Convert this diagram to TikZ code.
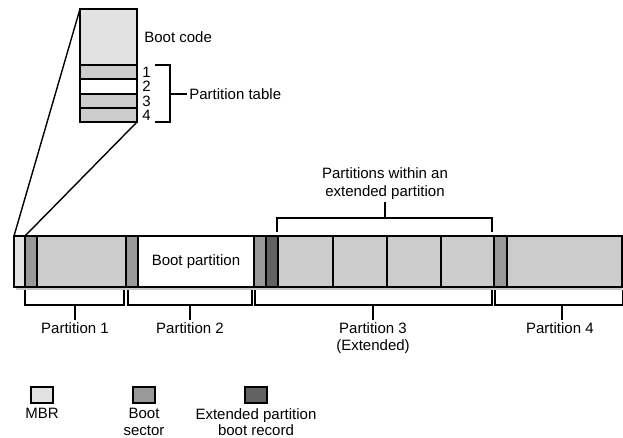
\documentclass[tikz,border=0pt]{standalone}
\usepackage{fontspec}
\setmainfont{Liberation Sans}
\usetikzlibrary{positioning}
\definecolor{mbrgray}{HTML}{E2E2E2}
\definecolor{partgray}{HTML}{CCCCCC}
\definecolor{bootgray}{HTML}{999999}
\definecolor{epbrgray}{HTML}{626262}
\begin{document}
\begin{tikzpicture}[x=0.5pt, y=-0.5pt,
    seg/.style={draw=black, line width=0.7pt, minimum height=25.5pt, inner sep=0pt, outer sep=0pt, anchor=west},
    row/.style={draw=black, line width=0.7pt, minimum width=28.5pt, inner sep=0pt, outer sep=0pt, anchor=north west},
    key/.style={draw=black, line width=0.9pt, minimum width=11pt, minimum height=8pt, inner sep=0pt},
    lbl/.style={font=\fontsize{7.5}{8.8}\selectfont, inner sep=1pt, align=center},
    brk/.style={line width=0.7pt}
]
\useasboundingbox (0,0) rectangle (623,438);

% Boot code and partition table entries
\node[row, fill=mbrgray, minimum height=28pt] (bc) at (80,9) {};
\node[lbl, anchor=west] (bctext) at ([xshift=2.5pt]bc.east) {Boot code};
\foreach \i/\fillcol/\top/\h in {1/partgray/65/14, 2/white/79/15, 3/partgray/94/14, 4/partgray/108/14} {
    \node[row, fill=\fillcol, minimum height=\h*0.5pt, label={[lbl, label distance=1.5pt]right:\i}] (t\i) at (80,\top) {};
}
% Bracket of the partition table
\draw[brk] (155,65) -| (170,122) -- (155,122);
\coordinate (tabstem) at (170,94);
\node[lbl, anchor=west] (tabtext) at (187,94) {Partition table};
\draw[brk] (tabstem) -- (tabtext.west);

% Shadow under the disk
\fill[black!22] (16,286) rectangle (622,290);

% Disk segments: name, colour, width
\def\xpos{14}
\foreach \name/\fillcol/\w in {
    mbr/mbrgray/11,
    bsa/bootgray/12,
    pa/partgray/89,
    bsb/bootgray/12,
    pb/white/116,
    bsc/bootgray/12,
    epbr/epbrgray/12,
    ea/partgray/55,
    eb/partgray/54,
    ec/partgray/54,
    ed/partgray/53,
    bsd/bootgray/13,
    pd/partgray/115
} {
    \node[seg, fill=\fillcol, minimum width=\w*0.5pt] (\name) at (\xpos,261.5) {};
    % Advance horizontal position
    \pgfmathsetmacro{\xpos}{\xpos + \w}
    \xdef\xpos{\xpos}
}
\node[lbl] (pbtext) at (pb) {Boot partition};

% Magnifying lines from the MBR
\draw[brk] (bc.north west) -- (mbr.north west);
\draw[brk] (t4.south east) -- (mbr.north east);

% Brackets below the disk
\foreach \n/\l/\r/\m/\txt in {
    1/25/124/75/{Partition 1},
    2/128/252/190/{Partition 2},
    3/255/492/373/{Partition 3\\(Extended)},
    4/495/623/562/{Partition 4}
} {
    \draw[brk] (\l,290) |- (\r,305) -- (\r,290);
    \coordinate (stem\n) at (\m,305);
    \node[lbl, anchor=north] (part\n) at (\m,320) {\txt};
    \draw[brk] (stem\n) -- (part\n.north);
}

% Bracket above the extended partition
\draw[brk] (277,232) |- (492,218) -- (492,232);
\coordinate (extstem) at (385,218);
\node[lbl, anchor=south] (exttext) at (385,202) {Partitions within an\\extended partition};
\draw[brk] (extstem) -- (exttext.south);

% Legend
\node[key, fill=mbrgray] (keymbr) at (42,395) {};
\node[lbl, below=1pt of keymbr] (keymbrtext) {MBR};
\node[key, fill=bootgray] (keybs) at (144,395) {};
\node[lbl, below=1pt of keybs, font=\fontsize{7.5}{8.4}\selectfont] (keybstext) {Boot\\sector};
\node[key, fill=epbrgray] (keyep) at (256,395) {};
\node[lbl, below=1pt of keyep, font=\fontsize{7.5}{8.4}\selectfont] (keyeptext) {Extended partition\\boot record};
\end{tikzpicture}
\end{document}
